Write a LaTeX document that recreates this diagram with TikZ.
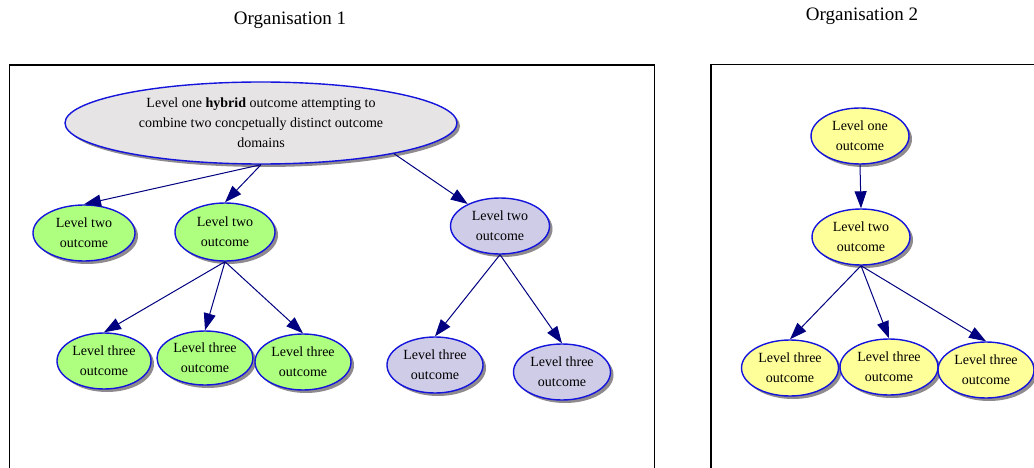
\documentclass[tikz,border=0pt]{standalone}
\usepackage{fontspec}
\setmainfont{Liberation Serif}
\usetikzlibrary{shapes.geometric,arrows.meta,shadows}
\definecolor{edgecol}{RGB}{0,0,128}
\definecolor{rimcol}{RGB}{20,20,220}
\definecolor{greenfill}{RGB}{174,255,128}
\definecolor{lavfill}{RGB}{207,204,232}
\definecolor{yelfill}{RGB}{255,255,153}
\definecolor{greyfill}{RGB}{230,228,228}
\definecolor{shadowcol}{RGB}{130,125,130}
\tikzset{
  oval/.style={ellipse, draw=rimcol, line width=1.4pt, inner sep=0pt,
    align=center, font=\fontsize{14}{20}\selectfont,
    minimum width=96pt, minimum height=56pt,
    drop shadow={shadow xshift=3pt, shadow yshift=-3pt, fill=shadowcol, opacity=0.9}},
  gnode/.style={oval, fill=greenfill},
  lnode/.style={oval, fill=lavfill},
  ynode/.style={oval, fill=yelfill},
  link/.style={draw=edgecol, line width=1pt, -{Triangle[length=17pt,width=12pt]}},
  frame/.style={draw=black, line width=1.4pt},
  title/.style={font=\fontsize{19}{22}\selectfont}
}
\begin{document}
\begin{tikzpicture}[x=1pt,y=-1pt]
\useasboundingbox (0,0) rectangle (1034,468);
\clip (0,0) rectangle (1034,468);
% frames
\draw[frame] (9.5,475) -- (9.5,65) -- (654.5,65) -- (654.5,475);
\draw[frame] (711,475) -- (711,64.5) -- (1040,64.5);
% titles
\node[title] (t1) at (290,20) {Organisation 1};
\node[title] (t2) at (862,16) {Organisation 2};
% Organisation 1
\node[oval, fill=greyfill, minimum width=392pt, minimum height=82pt] (top) at (261,123)
  {Level one \textbf{hybrid} outcome attempting to\\combine two concpetually distinct outcome\\domains};
\node[gnode, minimum width=102pt] (a2) at (84,233) {Level two\\outcome};
\node[gnode, minimum width=100pt, minimum height=58pt] (b2) at (225,232) {Level two\\outcome};
\node[lnode, minimum width=99pt] (c2) at (500,226) {Level two\\outcome};
\node[gnode, minimum width=94pt] (a3) at (104,361) {Level three\\outcome};
\node[gnode, minimum width=96pt, minimum height=54pt] (b3) at (205,358) {Level three\\outcome};
\node[gnode, minimum width=96pt] (c3) at (303,362) {Level three\\outcome};
\node[lnode] (d3) at (435,365) {Level three\\outcome};
\node[lnode, minimum width=97pt] (e3) at (562,372) {Level three\\outcome};
\draw[link] (top.south) -- (a2.north);
\draw[link] (top.south) -- (b2.north);
\draw[link] (top.-13) -- (c2);
\draw[link] (b2.south) -- (a3.north);
\draw[link] (b2.south) -- (b3.north);
\draw[link] (b2.south) -- (c3.north);
\draw[link] (c2.south) -- (d3.north);
\draw[link] (c2.south) -- (e3.north);
% Organisation 2
\node[ynode, minimum width=98pt] (r1) at (860,136) {Level one\\outcome};
\node[ynode, minimum width=98pt] (r2) at (861,237) {Level two\\outcome};
\node[ynode, minimum width=97pt] (r3a) at (790,368) {Level three\\outcome};
\node[ynode, minimum width=98pt] (r3b) at (889,367) {Level three\\outcome};
\node[ynode, minimum width=96pt] (r3c) at (986,370) {Level three\\outcome};
\draw[link] (r1.south) -- (r2.north);
\draw[link] (r2.south) -- (r3a.north);
\draw[link] (r2.south) -- (r3b.north);
\draw[link] (r2.south) -- (r3c.north);
\end{tikzpicture}
\end{document}
